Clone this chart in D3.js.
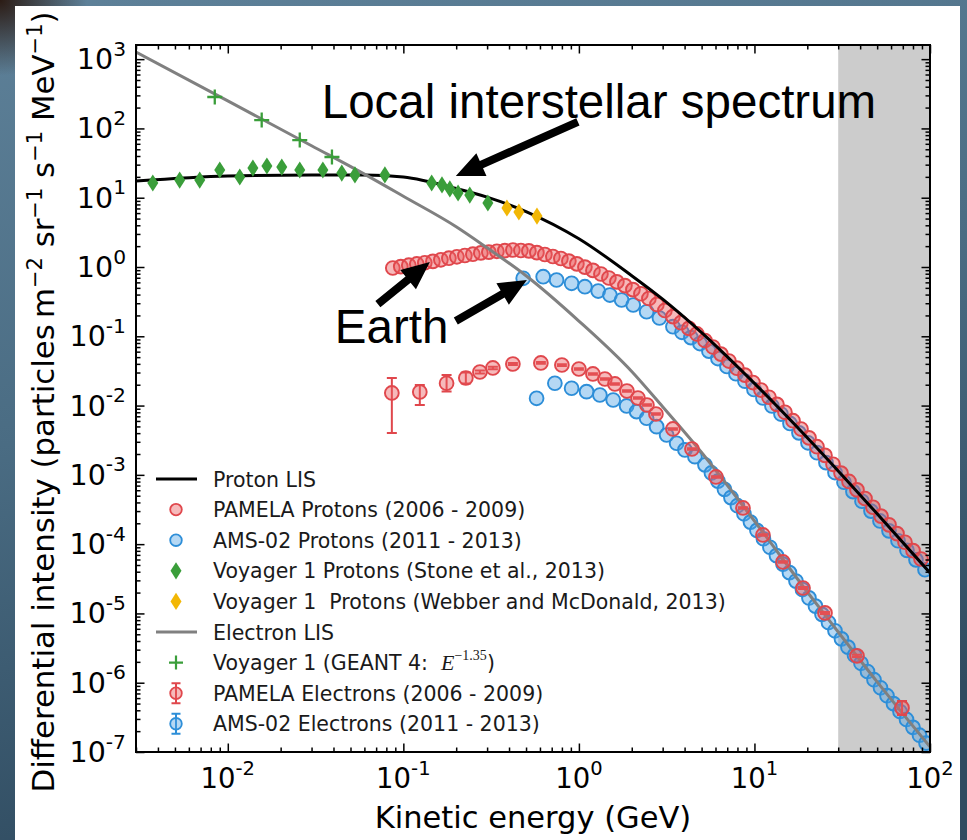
<!DOCTYPE html>
<html>
<head>
<meta charset="utf-8">
<script src="https://cdn.jsdelivr.net/npm/d3@7"></script>
<style>
  html, body { margin: 0; padding: 0; background: #48697f; }
  svg { display: block; }
  text { font-family: "DejaVu Sans", sans-serif; }
</style>
</head>
<body>
<svg id="chart" width="967" height="840"></svg>
<script>
// ---------------- data (kinetic energy in GeV, intensity in particles m^-2 sr^-1 s^-1 MeV^-1) ----------------
const lisEnergy = [0.003, 0.01, 0.03, 0.06, 0.1, 0.2, 0.3, 0.5, 1, 2, 3, 5, 10, 20, 30, 50, 100];
const protonLis = [17.4, 20.6, 21.3, 21.3, 19.9, 13.6, 10.2, 6.32, 2.56, 0.749, 0.343, 0.113, 0.0209,
                   0.00343, 0.00114, 2.74e-4, 3.85e-5];
const electronLis = [1265, 250, 56.3, 21.9, 10.5, 3.81, 1.89, 0.748, 0.166, 0.031, 0.0096, 0.0021, 2.16e-4,
                     2.04e-5, 5.4e-6, 1.03e-6, 1.19e-7];

const pamelaProtonE = [0.0871, 0.0967, 0.1074, 0.1193, 0.1325, 0.1473, 0.1636, 0.1817, 0.2018, 0.2241,
  0.2489, 0.2764, 0.3070, 0.3410, 0.3787, 0.4207, 0.4672, 0.5189, 0.5763, 0.6401,
  0.7109, 0.7895, 0.8768, 0.9738, 1.082, 1.202, 1.335, 1.482, 1.646, 1.829,
  2.031, 2.256, 2.505, 2.782, 3.090, 3.433, 3.812, 4.234, 4.703, 5.223,
  5.801, 6.443, 7.155, 7.947, 8.826, 9.806, 10.89, 12.10, 13.43, 14.92,
  16.58, 18.41, 20.45, 22.71, 25.22, 28.02, 31.12, 34.56, 38.38, 42.63,
  47.34, 52.58, 58.40, 64.86, 72.03, 80.04, 88.86];
const pamelaProtonI = [0.967, 1.013, 1.062, 1.107, 1.152, 1.205, 1.270, 1.340, 1.404, 1.466,
  1.530, 1.598, 1.641, 1.685, 1.725, 1.759, 1.730, 1.707, 1.614, 1.515,
  1.418, 1.326, 1.216, 1.108, 0.997, 0.893, 0.792, 0.694, 0.610, 0.539,
  0.472, 0.411, 0.351, 0.288, 0.236, 0.1924, 0.1571, 0.1300, 0.1080, 0.0870,
  0.0701, 0.0553, 0.0439, 0.0346, 0.0275, 0.0215, 0.01674, 0.01318, 0.01041, 0.00800,
  0.00605, 0.00458, 0.00342, 0.00255, 0.00191, 0.00142, 0.00106, 8.03e-4, 6.07e-4, 4.56e-4,
  3.41e-4, 2.54e-4, 1.90e-4, 1.42e-4, 1.065e-4, 8.06e-5, 6.10e-5];

const amsProtonE = [0.4816, 0.6259, 0.7462, 0.9088, 1.082, 1.288, 1.502, 1.751, 2.039, 2.431,
  2.875, 3.433, 3.864, 4.347, 4.893, 5.504, 6.194, 6.971, 7.845, 8.831,
  9.935, 11.18, 12.58, 14.16, 15.94, 17.93, 20.18, 22.71, 25.55, 28.76,
  32.36, 36.41, 40.98, 46.12, 51.89, 58.40, 65.72, 73.94, 83.21, 93.65];
const amsProtonI = [0.687, 0.724, 0.649, 0.582, 0.520, 0.450, 0.394, 0.334, 0.283, 0.226,
  0.1836, 0.1376, 0.1142, 0.0958, 0.0785, 0.0610, 0.0477, 0.0367, 0.0288, 0.0225,
  0.01707, 0.01287, 0.00987, 0.00754, 0.00552, 0.00404, 0.00290, 0.00209, 0.00150, 0.00108,
  7.82e-4, 5.72e-4, 4.16e-4, 3.00e-4, 2.16e-4, 1.555e-4, 1.12e-4, 8.14e-5, 5.93e-5, 4.27e-5];

const stoneE = [0.00374, 0.00532, 0.00692, 0.0090, 0.0117, 0.0139, 0.0167, 0.0203, 0.0257, 0.0348,
  0.0446, 0.0530, 0.0785, 0.145, 0.166, 0.184, 0.205, 0.239, 0.303];
const stoneI = [16.3, 18.0, 18.0, 25.1, 19.9, 26.8, 28.7, 27.7, 25.1, 25.1,
  22.7, 21.3, 21.3, 16.3, 15.3, 13.4, 11.7, 10.9, 8.39];

const webberE = [0.389, 0.455, 0.577];
const webberI = [7.10, 6.22, 5.44];

const geantE = [0.00843, 0.0156, 0.0257, 0.0392];
const geantI = [284, 132, 68, 38.7];

const pamelaElecE = [0.0860, 0.1241, 0.1763, 0.2270, 0.2729, 0.3236, 0.4207, 0.6073, 0.8000, 1.000,
  1.202, 1.406, 1.604, 1.877, 2.169, 2.441, 2.746, 3.433, 4.405, 6.035,
  8.602, 11.18, 14.54, 18.90, 25.22, 38.37, 69.27];
const pamelaElecI = [0.0152, 0.01571, 0.0210, 0.0250, 0.0305, 0.0349, 0.0398, 0.0412, 0.0385, 0.0337,
  0.0286, 0.0242, 0.0205, 0.01624, 0.01287, 0.01020, 0.00756, 0.00460, 0.00236, 9.33e-4,
  3.33e-4, 1.357e-4, 5.53e-5, 2.33e-5, 1.017e-5, 2.44e-6, 4.33e-7];
const pamelaElecLo = [0.00402, 0.0102, 0.0160, 0.0208, 0.0290, 0.0335, 0.0385, 0.0400, 0.0374, 0.0328,
  0.0279, 0.0236, 0.0200, 0.01585, 0.01256, 0.00995, 0.00737, 0.00448, 0.00230, 9.10e-4,
  3.24e-4, 1.32e-4, 5.38e-5, 2.26e-5, 9.85e-6, 2.35e-6, 3.43e-7];
const pamelaElecHi = [0.0250, 0.0198, 0.0276, 0.0300, 0.0320, 0.0363, 0.0411, 0.0424, 0.0396, 0.0346,
  0.0293, 0.0248, 0.0210, 0.01664, 0.01318, 0.01045, 0.00775, 0.00472, 0.00242, 9.57e-4,
  3.42e-4, 1.39e-4, 5.68e-5, 2.40e-5, 1.05e-5, 2.53e-6, 5.46e-7];

const amsElecE = [0.5741, 0.7297, 0.9088, 1.106, 1.317, 1.568, 1.870, 2.132, 2.431, 2.771,
  3.160, 3.604, 4.018, 4.581, 5.224, 5.688, 6.194, 6.746, 7.346, 8.000,
  8.712, 9.489, 10.33, 11.25, 12.25, 13.35, 14.54, 15.83, 17.24, 18.77,
  20.44, 22.27, 24.25, 26.41, 28.76, 31.32, 34.10, 37.14, 40.45, 44.05,
  47.97, 52.24, 56.89, 61.95, 67.46, 73.47, 80.00, 87.12, 94.89];
const amsElecI = [0.01274, 0.0210, 0.01777, 0.01587, 0.01422, 0.01204, 0.00987, 0.00817, 0.00656, 0.00496,
  0.00376, 0.00286, 0.00229, 0.00183, 1.394e-3, 1.065e-3, 8.11e-4, 6.18e-4, 4.70e-4, 3.59e-4,
  2.74e-4, 2.08e-4, 1.581e-4, 1.196e-4, 9.02e-5, 6.83e-5, 5.15e-5, 3.88e-5, 2.93e-5, 2.21e-5,
  1.674e-5, 1.274e-5, 9.70e-6, 7.39e-6, 5.61e-6, 4.29e-6, 3.26e-6, 2.49e-6, 1.905e-6, 1.451e-6,
  1.105e-6, 8.44e-7, 6.49e-7, 4.99e-7, 3.84e-7, 2.95e-7, 2.27e-7, 1.747e-7, 1.344e-7];

// energy above which the band is shaded
const shadeFrom = 30;

const legendLabels = [
  "Proton LIS",
  "PAMELA Protons (2006 - 2009)",
  "AMS-02 Protons (2011 - 2013)",
  "Voyager 1 Protons (Stone et al., 2013)",
  "Voyager 1  Protons (Webber and McDonald, 2013)",
  "Electron LIS",
  "Voyager 1 (GEANT 4:  ",
  "PAMELA Electrons (2006 - 2009)",
  "AMS-02 Electrons (2011 - 2013)"
];
const xTickPowers = [-2, -1, 0, 1, 2];
const yTickPowers = [-7, -6, -5, -4, -3, -2, -1, 0, 1, 2, 3];

// annotation anchors in data units
const lisNote = { text: "Local interstellar spectrum", E: 0.0343, I: 141 };
const earthNote = { text: "Earth", E: 0.0407, I: 0.080 };
const arrows = [
  { from: [0.987, 124], to: [0.199, 20.6] },
  { from: [0.0716, 0.292], to: [0.1416, 1.18] },
  { from: [0.199, 0.166], to: [0.5055, 0.649] }
];

// ---------------- layout ----------------
const W = 967, H = 840;
const plot = { left: 136, right: 930, top: 45, bottom: 752 };
const x = d3.scaleLog().domain([0.003, 100]).range([plot.left, plot.right]);
const y = d3.scaleLog().domain([1e-7, 1600]).range([plot.bottom, plot.top]);

const C = {
  red: "#e0474c", redFill: "#ea5a5e",
  blue: "#2d8ed8", blueFill: "#4ea3e4",
  green: "#3a9e3a", gold: "#f2b705",
  grayLine: "#808080", band: "#cccccc"
};
const SANS2 = "'Liberation Sans', Arial, sans-serif";
const SERIF = "'Liberation Serif', 'DejaVu Serif', serif";

const svg = d3.select("#chart");
const defs = svg.append("defs");

// backdrop around the white panel
const bg = defs.append("linearGradient").attr("id", "bg")
  .attr("x1", 0).attr("y1", 0).attr("x2", 0.25).attr("y2", 1);
bg.append("stop").attr("offset", 0).attr("stop-color", "#5e8199");
bg.append("stop").attr("offset", 0.5).attr("stop-color", "#4a6c83");
bg.append("stop").attr("offset", 1).attr("stop-color", "#304c61");
const corner = defs.append("radialGradient").attr("id", "corner")
  .attr("cx", 0).attr("cy", 0).attr("r", 0.09);
corner.append("stop").attr("offset", 0).attr("stop-color", "#2b1b14").attr("stop-opacity", 1);
corner.append("stop").attr("offset", 1).attr("stop-color", "#2b1b14").attr("stop-opacity", 0);

svg.append("rect").attr("width", W).attr("height", H).attr("fill", "url(#bg)");
svg.append("rect").attr("width", W).attr("height", H).attr("fill", "url(#corner)");
svg.append("rect").attr("x", 15).attr("y", 6).attr("width", 945).attr("height", H - 6).attr("fill", "#ffffff");

defs.append("clipPath").attr("id", "plotClip").append("rect")
  .attr("x", plot.left).attr("y", plot.top)
  .attr("width", plot.right - plot.left).attr("height", plot.bottom - plot.top);

const area = svg.append("g").attr("clip-path", "url(#plotClip)");

// shaded high-energy band
area.append("rect")
  .attr("x", x(shadeFrom)).attr("y", plot.top)
  .attr("width", x(100) - x(shadeFrom)).attr("height", plot.bottom - plot.top)
  .attr("fill", C.band);

const zip = (es, vs) => es.map((e, i) => ({ E: e, I: vs[i] }));
const line = d3.line().x(d => x(d.E)).y(d => y(d.I)).curve(d3.curveMonotoneX);
const R = 6.9;

function circles(data, stroke, fill) {
  area.append("g").selectAll("circle").data(data).join("circle")
    .attr("cx", d => x(d.E)).attr("cy", d => y(d.I)).attr("r", R)
    .attr("fill", fill).attr("fill-opacity", 0.42)
    .attr("stroke", stroke).attr("stroke-width", 1.9);
}
const diamondPath = (hw, hh) => `M0,${-hh}L${hw},0L0,${hh}L${-hw},0Z`;

// proton measurements
circles(zip(amsProtonE, amsProtonI), C.blue, C.blueFill);
circles(zip(pamelaProtonE, pamelaProtonI), C.red, C.redFill);

// proton LIS
area.append("path").datum(zip(lisEnergy, protonLis))
  .attr("d", line).attr("fill", "none").attr("stroke", "#000").attr("stroke-width", 3);

// electron measurements and LIS
circles(zip(amsElecE, amsElecI), C.blue, C.blueFill);
area.append("path").datum(zip(lisEnergy, electronLis))
  .attr("d", line).attr("fill", "none").attr("stroke", C.grayLine).attr("stroke-width", 3);

const pe = pamelaElecE.map((e, i) => ({ E: e, I: pamelaElecI[i], lo: pamelaElecLo[i], hi: pamelaElecHi[i] }));
const errG = area.append("g").attr("stroke", C.red).attr("stroke-width", 2).attr("fill", "none");
errG.selectAll("path").data(pe).join("path")
  .attr("d", d => {
    const cx = x(d.E), y1 = y(d.hi), y2 = y(d.lo);
    return `M${cx},${y1}V${y2}M${cx - 5},${y1}H${cx + 5}M${cx - 5},${y2}H${cx + 5}`;
  });
circles(pe, C.red, C.redFill);

// Voyager 1
area.append("g").selectAll("path").data(zip(stoneE, stoneI)).join("path")
  .attr("transform", d => `translate(${x(d.E)},${y(d.I)})`)
  .attr("d", diamondPath(5.5, 8.6)).attr("fill", C.green);
area.append("g").selectAll("path").data(zip(webberE, webberI)).join("path")
  .attr("transform", d => `translate(${x(d.E)},${y(d.I)})`)
  .attr("d", diamondPath(5.5, 8.6)).attr("fill", C.gold);
area.append("g").selectAll("path").data(zip(geantE, geantI)).join("path")
  .attr("transform", d => `translate(${x(d.E)},${y(d.I)})`)
  .attr("d", "M-7.5,0H7.5M0,-7.5V7.5").attr("stroke", C.green).attr("stroke-width", 2.3).attr("fill", "none");

// ---------------- axes ----------------
function minorTicks(scale) {
  const [a, b] = scale.domain();
  const out = [];
  for (let k = Math.floor(Math.log10(a)); k <= Math.ceil(Math.log10(b)); k++) {
    for (let m = 2; m <= 9; m++) {
      const v = m * Math.pow(10, k);
      if (v >= a && v <= b) out.push(v);
    }
  }
  return out;
}
const xMajor = xTickPowers.map(p => Math.pow(10, p));
const yMajor = yTickPowers.map(p => Math.pow(10, p));

function addAxis(axisGen, transform) {
  const g = svg.append("g").attr("transform", transform).call(axisGen);
  g.select(".domain").remove();
  g.selectAll(".tick line").attr("stroke", "#000").attr("stroke-width", 1.5);
  g.selectAll(".tick text").remove();
}
const MAJ = 8.5, MIN = 4.5;
[["axisBottom", `translate(0,${plot.bottom})`, x], ["axisTop", `translate(0,${plot.top})`, x],
 ["axisLeft", `translate(${plot.left},0)`, y], ["axisRight", `translate(${plot.right},0)`, y]]
  .forEach(([fn, tr, sc]) => {
    const major = sc === x ? xMajor : yMajor;
    addAxis(d3[fn](sc).tickValues(major).tickSize(-MAJ).tickFormat(""), tr);
    addAxis(d3[fn](sc).tickValues(minorTicks(sc)).tickSize(-MIN).tickFormat(""), tr);
  });

svg.append("rect")
  .attr("x", plot.left).attr("y", plot.top)
  .attr("width", plot.right - plot.left).attr("height", plot.bottom - plot.top)
  .attr("fill", "none").attr("stroke", "#000").attr("stroke-width", 2);

function powerLabel(p, px, py, anchor, fs) {
  const t = svg.append("text").attr("x", px).attr("y", py)
    .attr("text-anchor", anchor).attr("font-size", fs).attr("fill", "#000");
  t.append("tspan").text("10");
  t.append("tspan").attr("font-size", fs * 0.71).attr("dy", -fs * 0.47).text(p < 0 ? "-" + (-p) : String(p));
}
xTickPowers.forEach(p => powerLabel(p, x(Math.pow(10, p)), 788, "middle", 27.5));
yTickPowers.forEach(p => powerLabel(p, 126, y(Math.pow(10, p)) + 10, "end", 28.5));

// axis titles
svg.append("text").attr("x", (plot.left + plot.right) / 2).attr("y", 828)
  .attr("text-anchor", "middle").attr("font-size", 30.5).attr("fill", "#000")
  .text("Kinetic energy (GeV)");

const yl = svg.append("text")
  .attr("transform", "translate(54,402) rotate(-90)")
  .attr("text-anchor", "middle").attr("font-size", 30.8).attr("fill", "#000")
  .style("white-space", "pre");
yl.append("tspan").text("Differential intensity (particles\u2009m");
[["\u22122", " sr"], ["\u22121", " s"], ["\u22121", " MeV"], ["\u22121", ")"]].forEach(([sup, after]) => {
  yl.append("tspan").attr("font-size", 21).attr("dy", -12).text(sup);
  yl.append("tspan").attr("dy", 12).text(after);
});

// ---------------- annotations ----------------
function arrowPath(x1, y1, x2, y2) {
  const dx = x2 - x1, dy = y2 - y1, L = Math.hypot(dx, dy);
  const ux = dx / L, uy = dy / L, nx = -uy, ny = ux;
  const sw = 4, hw = 12.5, hl = 28;
  const bx = x2 - ux * hl, by = y2 - uy * hl;
  const pts = [
    [x1 + nx * sw, y1 + ny * sw], [bx + nx * sw, by + ny * sw], [bx + nx * hw, by + ny * hw],
    [x2, y2], [bx - nx * hw, by - ny * hw], [bx - nx * sw, by - ny * sw], [x1 - nx * sw, y1 - ny * sw]
  ];
  return "M" + pts.map(p => p.join(",")).join("L") + "Z";
}
arrows.forEach(a => {
  svg.append("path")
    .attr("d", arrowPath(x(a.from[0]), y(a.from[1]), x(a.to[0]), y(a.to[1])))
    .attr("fill", "#000");
});
[lisNote, earthNote].forEach(n => {
  svg.append("text").attr("x", x(n.E)).attr("y", y(n.I))
    .style("font-family", SANS2)
    .attr("font-size", 47.5).attr("fill", "#000").text(n.text);
});

// ---------------- legend ----------------
const leg = svg.append("g");
const rowY0 = 479, rowStep = 30.6, mx = 176, tx = 213;
legendLabels.forEach((lab, i) => {
  const cy = rowY0 + i * rowStep;
  const g = leg.append("g").attr("transform", `translate(0,${cy})`);
  if (i === 0 || i === 5) {
    g.append("line").attr("x1", mx - 20).attr("x2", mx + 21).attr("y1", 0).attr("y2", 0)
      .attr("stroke", i === 0 ? "#000" : C.grayLine).attr("stroke-width", 3);
  } else if (i === 1 || i === 2 || i === 7 || i === 8) {
    const col = (i === 1 || i === 7) ? C.red : C.blue;
    const fill = (i === 1 || i === 7) ? C.redFill : C.blueFill;
    if (i >= 7) {
      g.append("path").attr("d", `M${mx},-10V10M${mx - 4.5},-10H${mx + 4.5}M${mx - 4.5},10H${mx + 4.5}`)
        .attr("stroke", col).attr("stroke-width", 2).attr("fill", "none");
    }
    g.append("circle").attr("cx", mx).attr("cy", 0).attr("r", 5.8)
      .attr("fill", fill).attr("fill-opacity", 0.42).attr("stroke", col).attr("stroke-width", 1.8);
  } else if (i === 3 || i === 4) {
    g.append("path").attr("transform", `translate(${mx},0)`).attr("d", diamondPath(5.5, 8.6))
      .attr("fill", i === 3 ? C.green : C.gold);
  } else if (i === 6) {
    g.append("path").attr("transform", `translate(${mx},0)`).attr("d", "M-7,0H7M0,-7V7")
      .attr("stroke", C.green).attr("stroke-width", 2.2);
  }
  const t = g.append("text").attr("x", tx).attr("y", 7.5).attr("font-size", 20.5)
    .attr("fill", "#1a1a1a").style("white-space", "pre").text(lab);
  if (i === 6) {
    t.append("tspan").style("font-family", SERIF)
      .attr("font-style", "italic").attr("font-size", 22).text("E");
    t.append("tspan").style("font-family", SERIF)
      .attr("font-size", 14).attr("dy", -10).text("\u22121.35");
    t.append("tspan").attr("dy", 10).text(")");
  }
});
</script>
</body>
</html>
